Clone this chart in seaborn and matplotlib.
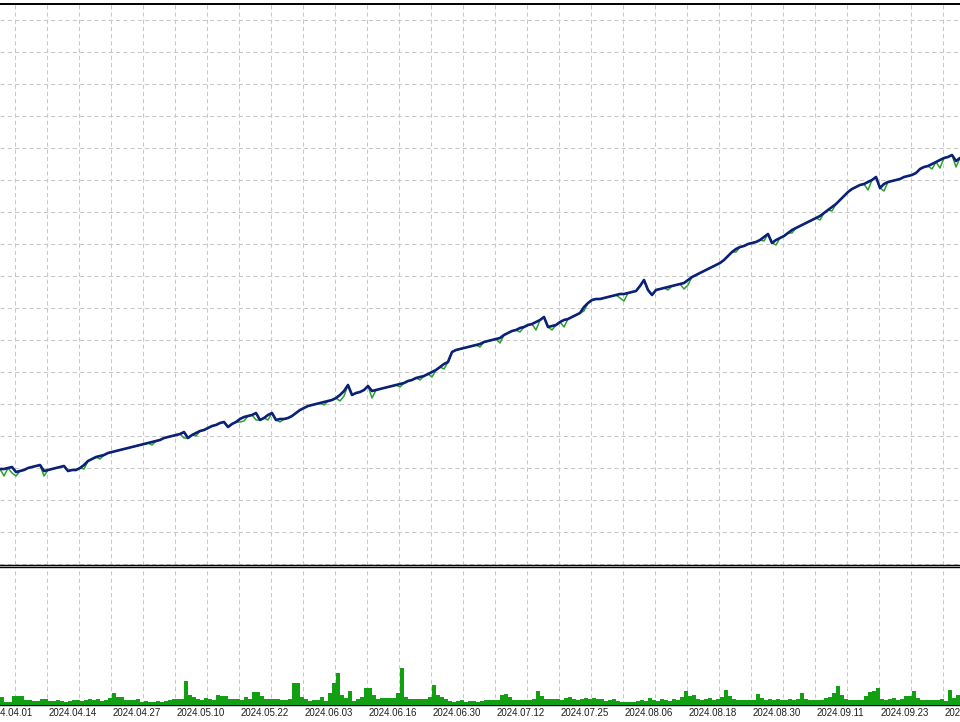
import numpy as np
import pandas as pd
import matplotlib
matplotlib.use("Agg")
import matplotlib.pyplot as plt
import seaborn as sns

# balance curve, one value per deal step
balance = [
    9975, 9975, 10000, 10025, 9900, 9925, 9950, 10000, 10025, 10050,
    10075, 9925, 9950, 9975, 10000, 10025, 10050, 9925, 9950, 9950,
    10000, 10075, 10175, 10225, 10275, 10300, 10325, 10375, 10400, 10425,
    10450, 10475, 10500, 10525, 10550, 10575, 10600, 10625, 10650, 10675,
    10700, 10750, 10775, 10800, 10825, 10850, 10900, 10750, 10825, 10875,
    10925, 10950, 11000, 11050, 11075, 11125, 11150, 11025, 11100, 11150,
    11225, 11275, 11300, 11325, 11375, 11200, 11250, 11325, 11375, 11200,
    11225, 11225, 11250, 11300, 11375, 11450, 11500, 11550, 11575, 11600,
    11625, 11650, 11675, 11700, 11750, 11825, 11925, 12075, 11825, 11875,
    11900, 11950, 12050, 11925, 11950, 11975, 12000, 12025, 12050, 12075,
    12100, 12125, 12175, 12200, 12250, 12275, 12300, 12350, 12400, 12450,
    12525, 12600, 12650, 12900, 12950, 12975, 13000, 13025, 13050, 13075,
    13100, 13150, 13175, 13200, 13225, 13250, 13325, 13375, 13425, 13450,
    13500, 13525, 13575, 13600, 13650, 13700, 13775, 13525, 13550, 13575,
    13650, 13700, 13725, 13775, 13825, 13875, 14025, 14125, 14200, 14225,
    14225, 14250, 14275, 14300, 14325, 14350, 14350, 14375, 14400, 14425,
    14550, 14700, 14450, 14325, 14450, 14475, 14500, 14525, 14550, 14575,
    14600, 14625, 14700, 14775, 14825, 14875, 14925, 14975, 15025, 15075,
    15125, 15200, 15300, 15400, 15475, 15525, 15550, 15600, 15625, 15650,
    15700, 15775, 15850, 15625, 15700, 15750, 15800, 15875, 15950, 16000,
    16050, 16100, 16150, 16200, 16250, 16300, 16375, 16450, 16525, 16600,
    16700, 16800, 16900, 16975, 17025, 17075, 17100, 17150, 17200, 17275,
    17000, 17100, 17150, 17175, 17200, 17225, 17275, 17300, 17325, 17375,
    17475, 17525, 17550, 17600, 17650, 17700, 17750, 17775, 17825, 17675,
    17750,
]

# how far equity sits under balance at each step (floating loss)
equity_dd = [
    0, 175, 0, 150, 100, 0, 0, 0, 0, 0,
    0, 125, 0, 0, 0, 0, 0, 0, 0, 0,
    0, 100, 0, 0, 0, 75, 0, 0, 0, 0,
    0, 0, 0, 0, 0, 0, 0, 0, 75, 0,
    0, 0, 0, 0, 0, 0, 150, 0, 0, 75,
    0, 0, 0, 0, 0, 0, 0, 0, 0, 0,
    75, 100, 0, 0, 175, 0, 0, 125, 0, 0,
    75, 0, 0, 0, 0, 0, 0, 0, 0, 0,
    0, 75, 0, 0, 0, 150, 125, 0, 0, 0,
    0, 0, 0, 175, 0, 0, 0, 0, 0, 0,
    75, 0, 0, 0, 0, 75, 0, 0, 125, 0,
    0, 125, 0, 0, 0, 0, 0, 0, 0, 0,
    75, 0, 0, 0, 0, 125, 0, 0, 0, 0,
    100, 0, 0, 0, 200, 0, 0, 0, 100, 0,
    0, 175, 0, 0, 0, 0, 100, 0, 0, 0,
    0, 0, 0, 0, 0, 100, 175, 0, 0, 0,
    0, 0, 0, 0, 0, 0, 0, 75, 0, 0,
    0, 150, 125, 0, 0, 0, 0, 0, 0, 0,
    0, 0, 0, 0, 75, 0, 0, 0, 0, 0,
    0, 100, 0, 0, 125, 0, 0, 0, 75, 0,
    0, 0, 0, 0, 0, 100, 0, 0, 100, 0,
    0, 0, 0, 0, 0, 0, 0, 200, 0, 0,
    0, 175, 0, 0, 0, 0, 0, 0, 0, 0,
    0, 0, 0, 125, 0, 200, 0, 0, 0, 150,
    0,
]

# deposit load, %
load = [
    5.8, 2.2, 2.2, 6.5, 6.5, 6.5, 3.6, 3.6, 2.9, 2.9,
    4.3, 4.3, 2.9, 2.9, 3.6, 2.9, 2.2, 2.9, 3.6, 3.6,
    2.9, 3.6, 4.3, 3.6, 4.3, 2.9, 3.6, 5.1, 8.7, 5.8,
    5.8, 3.6, 3.6, 3.6, 4.3, 2.2, 2.9, 2.2, 2.2, 2.9,
    2.2, 2.9, 3.6, 4.3, 4.3, 4.3, 17.4, 7.2, 5.8, 4.3,
    3.6, 5.1, 4.3, 3.6, 7.2, 6.5, 6.5, 4.3, 4.3, 4.3,
    3.6, 5.8, 4.3, 9.4, 9.4, 6.5, 4.3, 4.3, 4.3, 4.3,
    3.6, 3.6, 4.3, 15.9, 15.9, 5.8, 4.3, 2.9, 3.6, 3.6,
    5.8, 2.9, 8.7, 15.9, 23.2, 7.2, 5.1, 10.1, 2.9, 4.3,
    5.8, 12.3, 12.3, 7.2, 4.3, 5.1, 5.1, 5.1, 5.1, 8.7,
    26.8, 5.8, 4.3, 4.3, 4.3, 4.3, 4.3, 5.8, 14.5, 7.2,
    5.8, 4.3, 2.9, 2.2, 2.9, 3.6, 2.2, 2.9, 2.9, 2.2,
    2.9, 3.6, 3.6, 3.6, 3.6, 7.2, 8.0, 5.8, 3.6, 3.6,
    3.6, 3.6, 3.6, 4.3, 10.1, 6.5, 4.3, 4.3, 4.3, 4.3,
    3.6, 5.1, 5.8, 4.3, 3.6, 4.3, 5.1, 4.3, 5.1, 4.3,
    4.3, 2.9, 3.6, 4.3, 2.9, 2.2, 2.2, 2.2, 2.2, 2.9,
    3.6, 2.9, 5.1, 3.6, 2.9, 4.3, 3.6, 2.9, 4.3, 3.6,
    5.8, 10.1, 6.5, 7.2, 4.3, 3.6, 4.3, 5.1, 3.6, 4.3,
    5.8, 10.9, 6.5, 4.3, 3.6, 3.6, 3.6, 3.6, 3.6, 8.0,
    5.1, 3.6, 4.3, 3.6, 4.3, 3.6, 3.6, 4.3, 3.6, 4.3,
    8.7, 4.3, 3.6, 3.6, 3.6, 3.6, 5.1, 5.8, 8.7, 13.8,
    7.2, 4.3, 3.6, 3.6, 3.6, 3.6, 6.5, 9.4, 10.1, 12.3,
    4.3, 3.6, 4.3, 5.1, 3.6, 4.3, 6.5, 6.5, 10.1, 5.1,
    3.6, 3.6, 3.6, 3.6, 3.6, 4.3, 2.9, 10.9, 5.1, 7.2,
]

date_labels = ["2024.04.01", "2024.04.14", "2024.04.27", "2024.05.10",
               "2024.05.22", "2024.06.03", "2024.06.16", "2024.06.30",
               "2024.07.12", "2024.07.25", "2024.08.06", "2024.08.18",
               "2024.08.30", "2024.09.11", "2024.09.23", "2024.10.05"]

sns.set_style("white")
plt.rcParams["font.family"] = ["Liberation Sans", "DejaVu Sans"]
plt.rcParams["lines.scale_dashes"] = False

df = pd.DataFrame({"step": np.arange(len(balance)), "balance": balance})
df["equity"] = df["balance"] - np.array(equity_dd)

W, H = 960, 722
fig = plt.figure(figsize=(W / 100, H / 100), dpi=100)
ax1 = fig.add_axes([0, (H - 565) / H, 1, 561 / H])
ax2 = fig.add_axes([0, (H - 705) / H, 1, 138 / H])

grid_kw = dict(color="#c8c8c8", linewidth=0.75, linestyle=(0, (3, 2.2)))
xgrid = np.arange(-4.25, 241, 8)

# main panel: balance + equity
sns.lineplot(data=df, x="step", y="equity", ax=ax1, color="#2ca02c",
             linewidth=1.1, zorder=3)
sns.lineplot(data=df, x="step", y="balance", ax=ax1, color="#0b2178",
             linewidth=1.9, zorder=4)
ax1.set_xticks(xgrid)
ax1.set_yticks(np.arange(7600, 21600, 800))
ax1.set_xlim(0, 240)
ax1.set_ylim(7575, 21600)
ax1.grid(True, **grid_kw)
ax1.tick_params(length=0, labelbottom=False, labelleft=False)
ax1.set_xlabel("")
ax1.set_ylabel("")

# lower panel: deposit load bars
ax2.bar(np.arange(len(load)) + 0.5, load, width=1.0, color="#12a012",
        edgecolor="none", zorder=3)
ax2.set_xticks(xgrid)
ax2.set_yticks([])
ax2.set_xlim(0, 240)
ax2.set_ylim(0, 100)
ax2.grid(True, axis="x", **grid_kw)
ax2.tick_params(length=0, labelbottom=False, labelleft=False)

for ax in (ax1, ax2):
    for side in ("left", "right"):
        ax.spines[side].set_visible(False)
    for side in ("top", "bottom"):
        ax.spines[side].set_color("black")
        ax.spines[side].set_linewidth(1.0)
ax1.spines["top"].set_linewidth(1.4)

# date labels sit just right of every other grid line
for k, lab in enumerate(date_labels):
    ax2.text(xgrid[2 * k] + 0.3, -8 / 138, lab, transform=ax2.get_xaxis_transform(),
             ha="left", va="center", fontsize=7, color="#1e1e1e", clip_on=False)

fig.savefig("out.png", dpi=100)
